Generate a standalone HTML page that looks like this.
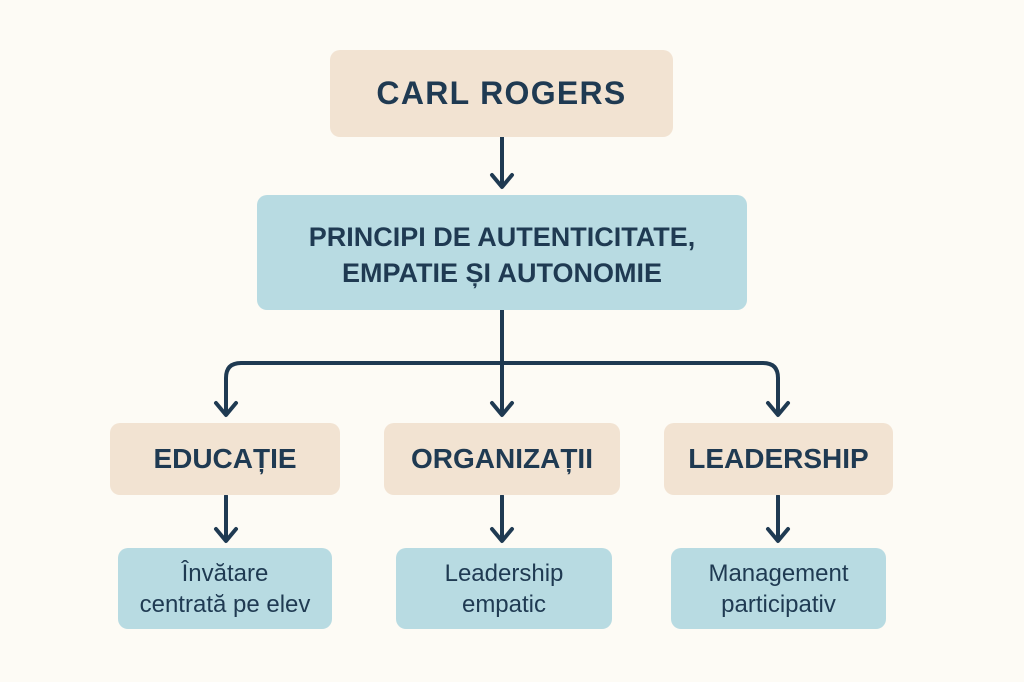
<!DOCTYPE html>
<html><head><meta charset="utf-8"><style>
body{margin:0;width:1024px;height:682px;background:#fdfbf5;position:relative;overflow:hidden;font-family:"Liberation Sans","DejaVu Sans",sans-serif;color:#1f3a52}
.b{position:absolute;display:flex;align-items:center;justify-content:center;text-align:center;border-radius:10px}
.t{background:#f2e3d2;font-weight:bold}
.c{background:#b8dbe2}
svg{position:absolute;left:0;top:0}
</style></head><body>
<svg width="1024" height="682" fill="none" stroke="#1f3a52" stroke-width="4" stroke-linecap="round" stroke-linejoin="round">
<line x1="502" y1="137" x2="502" y2="186"/><polyline points="492,175 502,187 512,175"/>
<line x1="502" y1="310" x2="502" y2="414"/><polyline points="492,403 502,415 512,403"/>
<path d="M226 414 V378 Q226 363 241 363 H763 Q778 363 778 378 V414"/>
<polyline points="216,403 226,415 236,403"/><polyline points="768,403 778,415 788,403"/>
<line x1="226" y1="496" x2="226" y2="540"/><polyline points="216,529 226,541 236,529"/>
<line x1="502" y1="496" x2="502" y2="540"/><polyline points="492,529 502,541 512,529"/>
<line x1="778" y1="496" x2="778" y2="540"/><polyline points="768,529 778,541 788,529"/>
</svg>
<div class="b t" style="left:330px;top:50px;width:343px;height:87px;font-size:32px;letter-spacing:1.3px">CARL ROGERS</div>
<div class="b c" style="left:257px;top:195px;width:490px;height:115px;font-size:27px;font-weight:bold;line-height:36px;padding-top:4px;box-sizing:border-box">PRINCIPI DE AUTENTICITATE,<br>EMPATIE ȘI AUTONOMIE</div>
<div class="b t" style="left:110px;top:423px;width:230px;height:72px;font-size:28px">EDUCAȚIE</div>
<div class="b t" style="left:384px;top:423px;width:236px;height:72px;font-size:28px">ORGANIZAȚII</div>
<div class="b t" style="left:664px;top:423px;width:229px;height:72px;font-size:28px">LEADERSHIP</div>
<div class="b c" style="left:118px;top:548px;width:214px;height:81px;font-size:24px;line-height:31px">Învătare<br>centrată pe elev</div>
<div class="b c" style="left:396px;top:548px;width:216px;height:81px;font-size:24px;line-height:31px">Leadership<br>empatic</div>
<div class="b c" style="left:671px;top:548px;width:215px;height:81px;font-size:24px;line-height:31px">Management<br>participativ</div>
</body></html>
